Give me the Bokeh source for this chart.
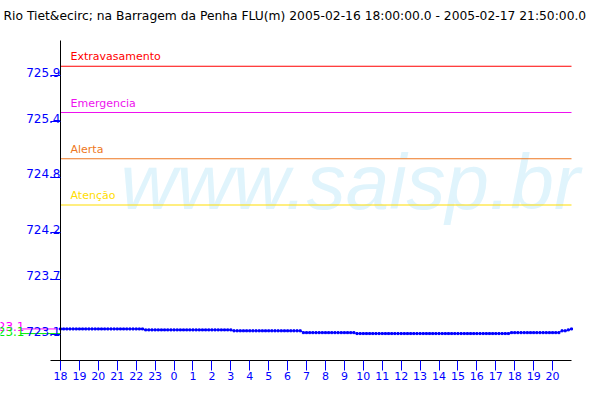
import math
from bokeh.plotting import figure
from bokeh.models import Range1d, FixedTicker, Label
from bokeh.core.properties import value
from bokeh.embed import file_html
from bokeh.resources import INLINE

title_text = "Rio Tiet&ecirc; na Barragem da Penha FLU(m) 2005-02-16 18:00:00.0 - 2005-02-17 21:50:00.0"

# x axis: hours since 2005-02-16 18:00
hour_ticks = list(range(27))
hour_labels = ["18", "19", "20", "21", "22", "23", "0", "1", "2", "3", "4", "5", "6",
               "7", "8", "9", "10", "11", "12", "13", "14", "15", "16", "17", "18",
               "19", "20"]

y_ticks = [723.1, 723.7, 724.2, 724.8, 725.4, 725.9]
y_tick_labels = ["723.1", "723.7", "724.2", "724.8", "725.4", "725.9"]

threshold_names = ["Extravasamento", "Emergencia", "Alerta", "Atenção"]
threshold_levels = [726.0, 725.5, 725.0, 724.5]
threshold_colors = ["#ff0000", "#ee11ee", "#ee7722", "#ffdd00"]

# water level (m), one reading every 10 minutes from 18:00
level = [
    723.16, 723.16, 723.16, 723.16, 723.16, 723.16, 723.16, 723.16, 723.16, 723.16,
    723.16, 723.16, 723.16, 723.16, 723.16, 723.16, 723.16, 723.16, 723.16, 723.16,
    723.16, 723.16, 723.16, 723.16, 723.16, 723.16, 723.16,
    723.15, 723.15, 723.15, 723.15, 723.15, 723.15, 723.15, 723.15, 723.15, 723.15,
    723.15, 723.15, 723.15, 723.15, 723.15, 723.15, 723.15, 723.15, 723.15, 723.15,
    723.15, 723.15, 723.15, 723.15, 723.15, 723.15, 723.15, 723.15,
    723.14, 723.14, 723.14, 723.14, 723.14, 723.14, 723.14, 723.14, 723.14, 723.14,
    723.14, 723.14, 723.14, 723.14, 723.14, 723.14, 723.14, 723.14, 723.14, 723.14,
    723.14, 723.14,
    723.12, 723.12, 723.12, 723.12, 723.12, 723.12, 723.12, 723.12, 723.12, 723.12,
    723.12, 723.12, 723.12, 723.12, 723.12, 723.12, 723.12,
    723.11, 723.11, 723.11, 723.11, 723.11, 723.11, 723.11, 723.11, 723.11, 723.11,
    723.11, 723.11, 723.11, 723.11, 723.11, 723.11, 723.11, 723.11, 723.11, 723.11,
    723.11, 723.11, 723.11, 723.11, 723.11, 723.11, 723.11, 723.11, 723.11, 723.11,
    723.11, 723.11, 723.11, 723.11, 723.11, 723.11, 723.11, 723.11, 723.11, 723.11,
    723.11, 723.11, 723.11, 723.11, 723.11, 723.11, 723.11, 723.11, 723.11,
    723.12, 723.12, 723.12, 723.12, 723.12, 723.12, 723.12, 723.12, 723.12, 723.12,
    723.12, 723.12, 723.12, 723.12, 723.12, 723.12,
    723.14, 723.14, 723.15, 723.16,
]
times = [k * 10 / 60 for k in range(len(level))]

FONT = "DejaVu Sans"

# geometry (pixels per unit), axis extents
W, H = 592, 392
PX_PER_HOUR = 511 / 27.0
PX_PER_M = 92.5
X_AXIS_START, X_AXIS_END = 0.0, 27.0
Y_AXIS_LOW, Y_AXIS_HIGH = 722.819, 726.278
x_start = X_AXIS_START - 60 / PX_PER_HOUR
x_end = x_start + W / PX_PER_HOUR
y_top = 723.1 + 334 / PX_PER_M
y_bottom = y_top - H / PX_PER_M

p = figure(width=W, height=H,
           x_range=Range1d(x_start, x_end), y_range=Range1d(y_bottom, y_top),
           output_backend="svg", toolbar_location=None,
           min_border=0)
p.min_border_left = 0
p.min_border_right = 0
p.min_border_top = 0
p.min_border_bottom = 0
p.outline_line_color = None
p.grid.visible = False
p.background_fill_color = "white"
p.border_fill_color = "white"

# watermark
p.text(x=[X_AXIS_START + 60 / PX_PER_HOUR], y=[724.754], text=["www.saisp.br"],
       text_font=value("Liberation Sans"), text_font_style="italic",
       text_font_size="78px", text_color="#e0f4fc", text_baseline="alphabetic")

# title
p.add_layout(Label(x=x_start + 3 / PX_PER_HOUR, y=y_top - 15 / PX_PER_M, text=title_text,
                   text_font=FONT, text_font_size="12.3px", text_color="black",
                   text_baseline="alphabetic"))

# threshold lines and names
n = len(threshold_levels)
p.segment(x0=[X_AXIS_START] * n, x1=[X_AXIS_END] * n, y0=threshold_levels,
          y1=threshold_levels, line_color=threshold_colors, line_width=1)
p.text(x=[X_AXIS_START + 10 / PX_PER_HOUR] * n, y=threshold_levels, text=threshold_names,
       text_color=threshold_colors, text_font=value(FONT), text_font_size="11px",
       text_baseline="bottom", y_offset=-3)

# max / min markers left of the axis (value cut to one decimal)
lvl_max, lvl_min = max(level), min(level)
mm_x0 = X_AXIS_START - 40 / PX_PER_HOUR
p.segment(x0=[mm_x0, mm_x0], x1=[X_AXIS_START, X_AXIS_START], y0=[lvl_max, lvl_min],
          y1=[lvl_max, lvl_min], line_color=["#ff00ff", "#00ee00"], line_width=1)
p.text(x=[X_AXIS_START - 36 / PX_PER_HOUR] * 2, y=[lvl_max, lvl_min],
       text=[f"{math.floor(lvl_max * 10 + 1e-9) / 10:.1f}",
             f"{math.floor(lvl_min * 10 + 1e-9) / 10:.1f}"],
       text_color=["#ff00ff", "#00ee00"],
       text_font=value(FONT), text_font_size="12px", text_align="right",
       text_baseline="bottom", y_offset=2)

# data
p.line(times, level, line_color="#0000ff", line_width=1)
p.scatter(times, level, marker="square", size=2, color="#0000ff")

# axes
xa = p.xaxis[0]
xa.fixed_location = Y_AXIS_LOW
xa.bounds = (X_AXIS_START - 10 / PX_PER_HOUR, X_AXIS_END)
xa.ticker = FixedTicker(ticks=hour_ticks)
xa.major_label_overrides = {t: s for t, s in zip(hour_ticks, hour_labels)}
xa.axis_line_color = "black"
xa.major_tick_line_color = "#0000ff"
xa.major_tick_in = 0
xa.major_tick_out = 10
xa.minor_tick_line_color = None
xa.major_label_text_color = "#0000ff"
xa.major_label_text_font = FONT
xa.major_label_text_font_size = "11px"
xa.major_label_standoff = 2

ya = p.yaxis[0]
ya.fixed_location = X_AXIS_START
ya.bounds = (Y_AXIS_LOW, Y_AXIS_HIGH)
ya.ticker = FixedTicker(ticks=y_ticks)
ya.axis_line_color = "black"
ya.major_tick_line_color = "#0000ff"
ya.major_tick_in = 0
ya.major_tick_out = 10
ya.minor_tick_line_color = None
ya.major_label_text_font_size = "0px"
ya.major_label_text_color = None

# y tick labels sit on their tick marks, as in the original
p.text(x=[X_AXIS_START] * len(y_ticks), y=y_ticks, text=y_tick_labels,
       text_color="#0000ff", text_font=value(FONT), text_font_size="12px",
       text_align="right", text_baseline="bottom", x_offset=0, y_offset=1)

open("out.html", "w").write(file_html(p, INLINE))
